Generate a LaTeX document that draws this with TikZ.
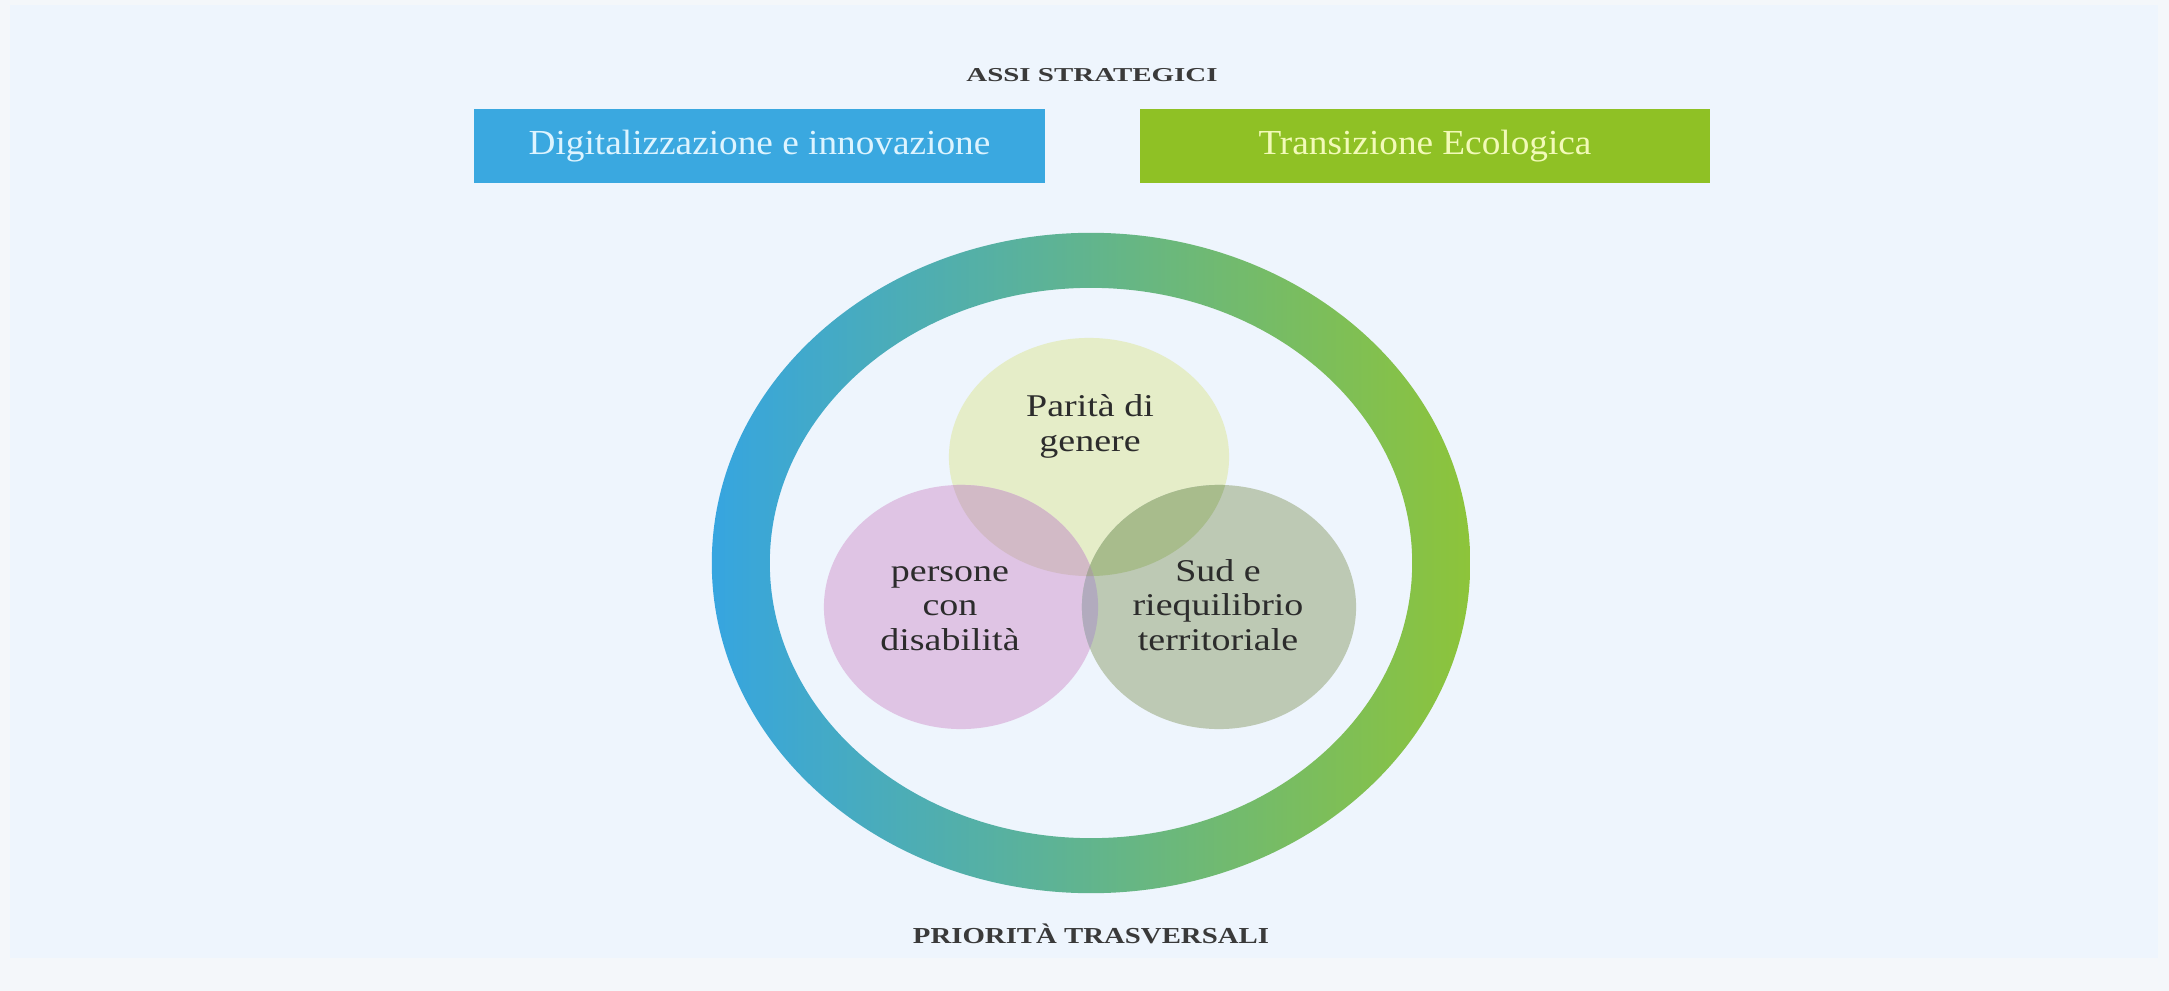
\documentclass[tikz,border=0pt]{standalone}
\usepackage{fontspec}
\setmainfont{Liberation Serif}
\usetikzlibrary{shapes.geometric}
\definecolor{pagebg}{HTML}{F4F7FA}
\definecolor{panelbg}{HTML}{EEF5FD}
\definecolor{boxblue}{HTML}{3AA8E0}
\definecolor{boxgreen}{HTML}{8FC125}
\definecolor{txtblue}{HTML}{DDF4FF}
\definecolor{txtgreen}{HTML}{F2FAB8}
\definecolor{ringblue}{HTML}{36A5E0}
\definecolor{ringgreen}{HTML}{8DC43A}
\definecolor{ctop}{HTML}{E5EDC8}
\definecolor{cleft}{HTML}{DFC4E4}
\definecolor{cright}{HTML}{BDC9B4}
\definecolor{ctl}{HTML}{D2BAC6}
\definecolor{ctr}{HTML}{A8BC8C}
\definecolor{clr}{HTML}{B2ABBE}
\definecolor{ctlr}{HTML}{A9A69A}
\definecolor{darktxt}{HTML}{2C2C2C}
\definecolor{captxt}{HTML}{3A3A3A}
\newcommand\xstretch[2]{\scalebox{#1}[1]{#2}}
\begin{document}
\begin{tikzpicture}[x=0.01cm,y=-0.01cm,
  axisbox/.style={rectangle,inner sep=0pt,minimum width=5.70cm,minimum height=0.74cm},
  captext/.style={inner sep=0pt,text=captxt},
  venntext/.style={inner sep=0pt,text=darktxt}]
\useasboundingbox (0,0) rectangle (2169,991);
\fill[pagebg] (0,0) rectangle (2169,991);
\fill[panelbg] (10,5) rectangle (2158,958);

% title
\node[captext] (assi) at (1092,75) {\xstretch{1.47}{\fontsize{5.6}{7}\selectfont\bfseries ASSI STRATEGICI}};

% axis boxes
\node[axisbox,fill=boxblue,text=txtblue] (digit) at (759.5,146)
  {\xstretch{1.06}{\fontsize{10}{12}\selectfont Digitalizzazione e innovazione}};
\node[axisbox,fill=boxgreen,text=txtgreen] (trans) at (1425,146)
  {\xstretch{1.06}{\fontsize{10}{12}\selectfont Transizione Ecologica}};

% ring
\coordinate (rc) at (1091,563);
\shade[left color=ringblue,right color=ringgreen,even odd rule]
  (rc) ellipse [x radius=3.79cm,y radius=3.30cm]
  (rc) ellipse [x radius=3.21cm,y radius=2.75cm];

% venn circles
\coordinate (ct) at (1089,457);
\coordinate (cl) at (961,607);
\coordinate (cr) at (1219,607);
\def\topell{(ct) ellipse [x radius=1.40cm,y radius=1.19cm]}
\def\leftell{(cl) ellipse [x radius=1.37cm,y radius=1.22cm]}
\def\rightell{(cr) ellipse [x radius=1.37cm,y radius=1.22cm]}
\fill[ctop] \topell;
\fill[cleft] \leftell;
\fill[cright] \rightell;
\begin{scope}
  \clip \topell;
  \fill[ctl] \leftell;
  \fill[ctr] \rightell;
\end{scope}
\begin{scope}
  \clip \leftell;
  \fill[clr] \rightell;
  \clip \topell;
  \fill[ctlr] \rightell;
\end{scope}

% venn texts
\node[venntext] (parita) at (1090,427)
  {\xstretch{1.2}{\fontsize{9}{9.8}\selectfont\begin{tabular}{@{}c@{}}Parità di\\genere\end{tabular}}};
\node[venntext] (persone) at (950,609)
  {\xstretch{1.2}{\fontsize{9}{9.8}\selectfont\begin{tabular}{@{}c@{}}persone\\con\\disabilità\end{tabular}}};
\node[venntext] (sud) at (1218,609)
  {\xstretch{1.2}{\fontsize{9}{9.8}\selectfont\begin{tabular}{@{}c@{}}Sud e\\riequilibrio\\territoriale\end{tabular}}};

% bottom caption
\node[captext] (prio) at (1091,934) {\xstretch{1.26}{\fontsize{6.5}{8}\selectfont\bfseries PRIORITÀ TRASVERSALI}};
\end{tikzpicture}
\end{document}
